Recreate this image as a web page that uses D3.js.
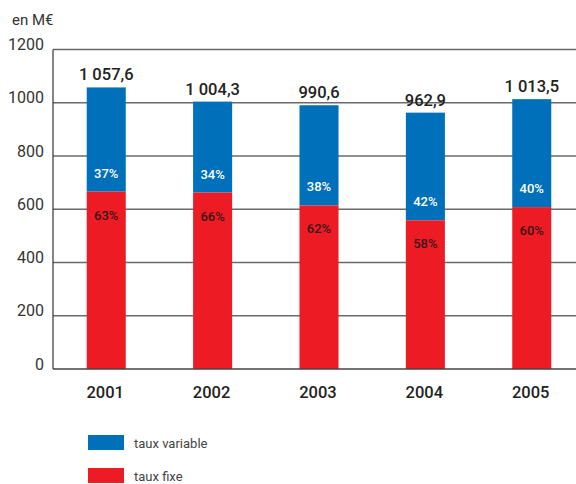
<!DOCTYPE html>
<html>
<head>
<meta charset="utf-8">
<script src="https://cdn.jsdelivr.net/npm/d3@7"></script>
<style>
  body { margin: 0; background: #fff; }
  text { font-family: Roboto, "DejaVu Sans", sans-serif; }
</style>
</head>
<body>
<div id="wrapper"></div>
<script>
const years = ["2001", "2002", "2003", "2004", "2005"]
const totals = [1057.6, 1004.3, 990.6, 962.9, 1013.5]
const totalLabels = ["1 057,6", "1 004,3", "990,6", "962,9", "1 013,5"]
const fixedShare = [63, 66, 62, 58, 60]
const variableShare = [37, 34, 38, 42, 40]
const yTicks = [0, 200, 400, 600, 800, 1000, 1200]
const seriesNames = ["taux variable", "taux fixe"]

const blue = "#0070bb"
const red = "#ed1c24"

const dimensions = {
  width: 576,
  height: 484,
  margin: { top: 49.5, right: 0, bottom: 115, left: 53 }
}

const svg = d3.select("#wrapper")
  .append("svg")
    .attr("width", dimensions.width)
    .attr("height", dimensions.height)

const yScale = d3.scaleLinear()
  .domain([0, 1200])
  .range([369, 49.5])

const xScale = d3.scaleBand()
  .domain(years)
  .range([53, 585])
  .paddingInner(0.633)
  .paddingOuter(0.317)

// gridlines
svg.append("g")
  .selectAll("line")
  .data(yTicks.filter(d => d > 0))
  .enter().append("line")
    .attr("x1", 53)
    .attr("x2", 576)
    .attr("y1", d => yScale(d))
    .attr("y2", d => yScale(d))
    .attr("stroke", "#6a6a6a")
    .attr("stroke-width", 1.3)

// y tick labels
svg.append("g")
  .selectAll("text")
  .data(yTicks)
  .enter().append("text")
    .attr("x", 44)
    .attr("y", d => yScale(d) + 0.5)
    .attr("text-anchor", "end")
    .attr("font-size", 16)
    .attr("fill", "#333")
    .text(d => d)

svg.append("text")
  .attr("x", 12)
  .attr("y", 25)
  .attr("font-size", 15)
  .attr("fill", "#333")
  .text("en M€")

const data = years.map((y, i) => ({
  year: y,
  total: totals[i],
  label: totalLabels[i],
  fixed: totals[i] * fixedShare[i] / 100,
  fixedPct: fixedShare[i],
  varPct: variableShare[i]
}))

const bars = svg.append("g")
  .selectAll("g")
  .data(data)
  .enter().append("g")

bars.append("rect")
  .attr("x", d => xScale(d.year))
  .attr("width", xScale.bandwidth())
  .attr("y", d => yScale(d.total))
  .attr("height", d => yScale(d.fixed) - yScale(d.total))
  .attr("fill", blue)

bars.append("rect")
  .attr("x", d => xScale(d.year))
  .attr("width", xScale.bandwidth())
  .attr("y", d => yScale(d.fixed))
  .attr("height", d => yScale(0) - yScale(d.fixed))
  .attr("fill", red)

const cx = d => xScale(d.year) + xScale.bandwidth() / 2

bars.append("text")
  .attr("x", cx)
  .attr("y", d => yScale(d.total) - 7)
  .attr("text-anchor", "middle")
  .attr("font-size", 16.5)
  .attr("font-weight", 500)
  .attr("fill", "#222")
  .text(d => d.label)

bars.append("text")
  .attr("x", cx)
  .attr("y", d => yScale(d.fixed) - 14)
  .attr("text-anchor", "middle")
  .attr("font-size", 13)
  .attr("font-weight", 500)
  .attr("fill", "#fff")
  .text(d => d.varPct + "%")

bars.append("text")
  .attr("x", cx)
  .attr("y", d => yScale(d.fixed) + 28)
  .attr("text-anchor", "middle")
  .attr("font-size", 13)
  .attr("font-weight", 500)
  .attr("fill", "#3a1518")
  .text(d => d.fixedPct + "%")

// axes lines
svg.append("line")
  .attr("x1", 53).attr("x2", 576)
  .attr("y1", yScale(0)).attr("y2", yScale(0))
  .attr("stroke", "#444").attr("stroke-width", 1.5)

svg.append("line")
  .attr("x1", 53).attr("x2", 53)
  .attr("y1", yScale(1200)).attr("y2", yScale(0))
  .attr("stroke", "#444").attr("stroke-width", 1.3)

// x labels
svg.append("g")
  .selectAll("text")
  .data(years)
  .enter().append("text")
    .attr("x", d => xScale(d) + xScale.bandwidth() / 2 - 1)
    .attr("y", 398)
    .attr("text-anchor", "middle")
    .attr("font-size", 16.5)
    .attr("font-weight", 500)
    .attr("fill", "#222")
    .text(d => d)

// legend
const legend = svg.append("g")
  .selectAll("g")
  .data(seriesNames)
  .enter().append("g")
    .attr("transform", (d, i) => `translate(88, ${435 + i * 33})`)

legend.append("rect")
  .attr("width", 36)
  .attr("height", 15)
  .attr("fill", (d, i) => i === 0 ? blue : red)

legend.append("text")
  .attr("x", 46)
  .attr("y", 13)
  .attr("font-size", 13)
  .attr("fill", "#444")
  .text(d => d)
</script>
</body>
</html>
